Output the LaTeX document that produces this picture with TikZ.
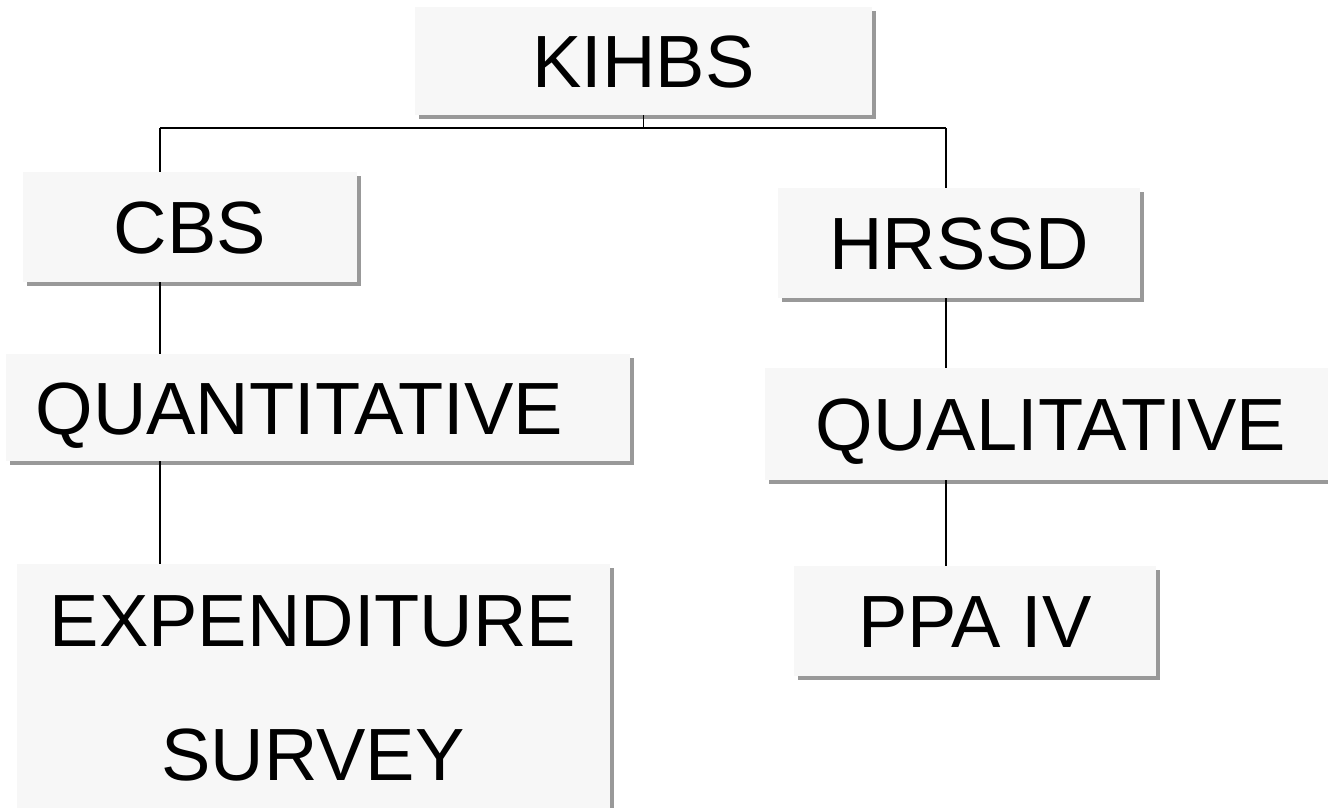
\documentclass[tikz,border=0pt]{standalone}
\usepackage{fontspec}
\setmainfont{Liberation Sans}
\usepackage{tikz}
\usetikzlibrary{arrows,calc,positioning,shadows}
\definecolor{boxfill}{HTML}{F7F7F7}
\definecolor{shadowgray}{HTML}{999999}
\tikzset{
        block/.style = {rectangle, fill=boxfill, inner sep=0pt,
            drop shadow={shadow xshift=3pt, shadow yshift=-3pt, fill=shadowgray, opacity=1},
            font=\fontsize{55.5}{100.5}\selectfont},
        oneline/.style = {text height=39.75pt, text depth=0pt},
        link/.style = {draw, line width=1pt},
    }
\begin{document}
\begin{tikzpicture}[x=0.75pt,y=-0.75pt]
    \useasboundingbox (0,0) rectangle (1328,807);

    % boxes
    \node [block, oneline, minimum width=342.75pt, minimum height=81pt] (kihbs) at (643.5,61) {KIHBS};
    \node [block, oneline, minimum width=250.5pt, minimum height=82.5pt] (cbs) at (190,227) {CBS};
    \node [block, oneline, minimum width=468pt, minimum height=80.25pt] (quant) at (318,407.5) {QUANTITATIVE\kern28pt};
    \node [block, align=center, minimum width=444.75pt, minimum height=186.75pt] (exp) at (313,688.5) {EXPENDITURE\\SURVEY};
    \node [block, oneline, minimum width=271.5pt, minimum height=82.5pt] (hrssd) at (959,243) {HRSSD};
    \node [block, oneline, minimum width=429pt, minimum height=84pt] (qual) at (1051,424) {QUALITATIVE};
    \node [block, oneline, minimum width=271.5pt, minimum height=82.5pt] (ppa) at (975,621) {PPA IV};

    % connectors
    \coordinate (top) at (kihbs.south |- 0,128);
    \coordinate (lft) at (160,128);
    \coordinate (rgt) at (946,128);
    \draw [link] (kihbs.south) -- (top);
    \draw [link] (lft) -- (rgt);
    \draw [link] (lft) -- (lft |- cbs.north);
    \draw [link] (lft |- cbs.south) -- (lft |- quant.north);
    \draw [link] (lft |- quant.south) -- (lft |- exp.north);
    \draw [link] (rgt) -- (rgt |- hrssd.north);
    \draw [link] (rgt |- hrssd.south) -- (rgt |- qual.north);
    \draw [link] (rgt |- qual.south) -- (rgt |- ppa.north);
\end{tikzpicture}
\end{document}
